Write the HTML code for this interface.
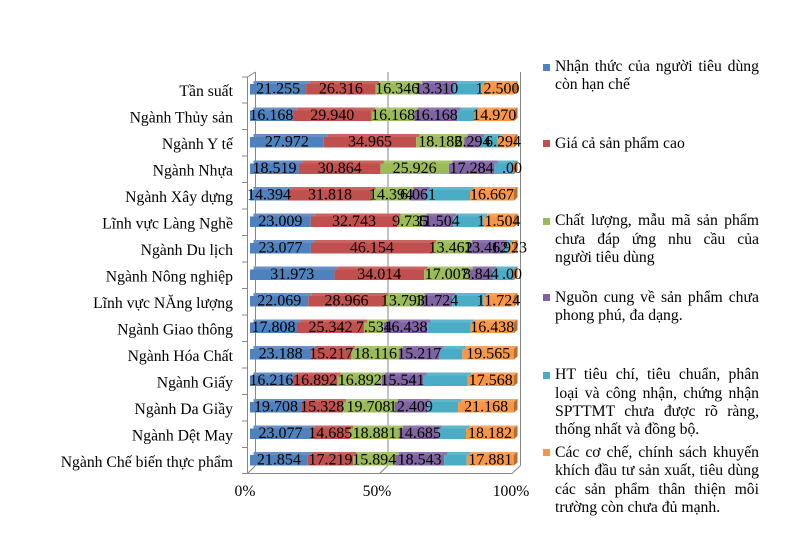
<!DOCTYPE html>
<html><head><meta charset="utf-8">
<style>
html,body{margin:0;padding:0;background:#fff;}
#w{position:relative;width:791px;height:536px;overflow:hidden;background:#fff;}
svg{position:absolute;left:0;top:0;}
.t{font-family:"Liberation Serif",serif;}
.lg{position:absolute;left:555px;width:204px;height:18px;line-height:18px;font-family:"Liberation Serif",serif;font-size:15.7px;color:#000;white-space:nowrap;}
.j{text-align:justify;text-align-last:justify;}
.sq{position:absolute;left:543px;width:7px;height:7px;}
.b{fill:#4F81BD}.r{fill:#C0504D}.g{fill:#9BBB59}.p{fill:#8064A2}.a{fill:#4BACC6}.o{fill:#F79646}
.bt{fill:#6890c6}.rt{fill:#c96461}.gt{fill:#a7c36c}.pt{fill:#8e75ad}.at{fill:#60b6cd}.ot{fill:#f8a260}
.sd{fill:#b86e31}
.dl{font-family:"Liberation Serif",serif;font-size:16px;fill:#000;text-anchor:middle;}
.cl{font-family:"Liberation Serif",serif;font-size:15.7px;fill:#000;text-anchor:end;}
</style></head>
<body><div id="w">
<svg width="791" height="536" viewBox="0 0 791 536" xmlns="http://www.w3.org/2000/svg">
<g stroke="#878787" stroke-width="1" fill="none">
<line x1="255.5" y1="72" x2="255.5" y2="465.5"/>
<line x1="388" y1="72" x2="388" y2="465.5"/>
<line x1="520.5" y1="72" x2="520.5" y2="465.5"/>
<line x1="247.5" y1="77" x2="255.5" y2="72"/>
<line x1="247.5" y1="77" x2="247.5" y2="473.5"/>
<line x1="247.5" y1="473.5" x2="512" y2="473.5"/>
<line x1="247.5" y1="473.5" x2="255.5" y2="465.5"/>
<line x1="379.5" y1="473.5" x2="388" y2="465.5"/>
<line x1="512" y1="473.5" x2="520.5" y2="465.5"/>
<line x1="242" y1="77" x2="247.5" y2="77"/>
<line x1="242" y1="103" x2="247.5" y2="103"/>
<line x1="242" y1="129.5" x2="247.5" y2="129.5"/>
<line x1="242" y1="156" x2="247.5" y2="156"/>
<line x1="242" y1="182.5" x2="247.5" y2="182.5"/>
<line x1="242" y1="209" x2="247.5" y2="209"/>
<line x1="242" y1="235.5" x2="247.5" y2="235.5"/>
<line x1="242" y1="262" x2="247.5" y2="262"/>
<line x1="242" y1="288.5" x2="247.5" y2="288.5"/>
<line x1="242" y1="315" x2="247.5" y2="315"/>
<line x1="242" y1="341.5" x2="247.5" y2="341.5"/>
<line x1="242" y1="368" x2="247.5" y2="368"/>
<line x1="242" y1="394.5" x2="247.5" y2="394.5"/>
<line x1="242" y1="421" x2="247.5" y2="421"/>
<line x1="242" y1="447.5" x2="247.5" y2="447.5"/>
<line x1="242" y1="473.5" x2="247.5" y2="473.5"/>
</g>

<!-- Row 0 -->
<g transform="translate(0,81)">
<rect class="bt" x="253.5" y="0" width="56.1" height="3"/><rect class="rt" x="309.6" y="0" width="69.5" height="3"/><rect class="gt" x="379.1" y="0" width="43.1" height="3"/><rect class="pt" x="422.2" y="0" width="35.2" height="3"/><rect class="at" x="457.4" y="0" width="27.1" height="3"/><rect class="ot" x="484.5" y="0" width="33" height="3"/>
<rect class="b" x="250" y="3" width="56.1" height="10.5"/><rect class="r" x="306.1" y="3" width="69.5" height="10.5"/><rect class="g" x="375.6" y="3" width="43.1" height="10.5"/><rect class="p" x="418.7" y="3" width="35.2" height="10.5"/><rect class="a" x="453.9" y="3" width="27.1" height="10.5"/><rect class="o" x="481" y="3" width="33" height="10.5"/>
<polygon class="sd" points="514,3 517.5,0 517.5,10.5 514,13.5"/>
<text class="dl" x="278.1" y="12.5">21.255</text><text class="dl" x="340.9" y="12.5">26.316</text><text class="dl" x="397.2" y="12.5">16.346</text><text class="dl" x="436.3" y="12.5">13.310</text><text class="dl" x="497.5" y="12.5">12.500</text>
</g>
<!-- Row 1 -->
<g transform="translate(0,107.5)">
<rect class="bt" x="253.5" y="0" width="42.7" height="3"/><rect class="rt" x="296.2" y="0" width="79" height="3"/><rect class="gt" x="375.2" y="0" width="42.7" height="3"/><rect class="pt" x="417.9" y="0" width="42.7" height="3"/><rect class="at" x="460.6" y="0" width="17.4" height="3"/><rect class="ot" x="478" y="0" width="39.5" height="3"/>
<rect class="b" x="250" y="3" width="42.7" height="10.5"/><rect class="r" x="292.7" y="3" width="79" height="10.5"/><rect class="g" x="371.7" y="3" width="42.7" height="10.5"/><rect class="p" x="414.4" y="3" width="42.7" height="10.5"/><rect class="a" x="457.1" y="3" width="17.4" height="10.5"/><rect class="o" x="474.5" y="3" width="39.5" height="10.5"/>
<polygon class="sd" points="514,3 517.5,0 517.5,10.5 514,13.5"/>
<text class="dl" x="271.4" y="12.5">16.168</text><text class="dl" x="332.2" y="12.5">29.940</text><text class="dl" x="393.1" y="12.5">16.168</text><text class="dl" x="435.8" y="12.5">16.168</text><text class="dl" x="494.3" y="12.5">14.970</text>
</g>
<!-- Row 2 -->
<g transform="translate(0,134)">
<rect class="bt" x="253.5" y="0" width="73.8" height="3"/><rect class="rt" x="327.3" y="0" width="92.4" height="3"/><rect class="gt" x="419.7" y="0" width="48" height="3"/><rect class="pt" x="467.7" y="0" width="16.6" height="3"/><rect class="at" x="484.3" y="0" width="16.6" height="3"/><rect class="ot" x="500.9" y="0" width="16.6" height="3"/>
<rect class="b" x="250" y="3" width="73.8" height="10.5"/><rect class="r" x="323.8" y="3" width="92.4" height="10.5"/><rect class="g" x="416.2" y="3" width="48" height="10.5"/><rect class="p" x="464.2" y="3" width="16.6" height="10.5"/><rect class="a" x="480.8" y="3" width="16.6" height="10.5"/><rect class="o" x="497.4" y="3" width="16.6" height="10.5"/>
<polygon class="sd" points="514,3 517.5,0 517.5,10.5 514,13.5"/>
<text class="dl" x="286.9" y="12.5">27.972</text><text class="dl" x="370" y="12.5">34.965</text><text class="dl" x="440.2" y="12.5">18.182</text><text class="dl" x="472.5" y="12.5">6.294</text><text class="dl" x="503" y="12.5">6.294</text>
</g>
<!-- Row 3 -->
<g transform="translate(0,160.5)">
<rect class="bt" x="253.5" y="0" width="48.9" height="3"/><rect class="rt" x="302.4" y="0" width="81.5" height="3"/><rect class="gt" x="383.9" y="0" width="68.4" height="3"/><rect class="pt" x="452.3" y="0" width="45.6" height="3"/><rect class="at" x="497.9" y="0" width="19.6" height="3"/>
<rect class="b" x="250" y="3" width="48.9" height="10.5"/><rect class="r" x="298.9" y="3" width="81.5" height="10.5"/><rect class="g" x="380.4" y="3" width="68.4" height="10.5"/><rect class="p" x="448.8" y="3" width="45.6" height="10.5"/><rect class="a" x="494.4" y="3" width="19.6" height="10.5"/>
<polygon class="sd" points="514,3 517.5,0 517.5,10.5 514,13.5"/>
<text class="dl" x="274.5" y="12.5">18.519</text><text class="dl" x="339.7" y="12.5">30.864</text><text class="dl" x="414.6" y="12.5">25.926</text><text class="dl" x="471.6" y="12.5">17.284</text><text class="dl" x="512" y="12.5">.00</text>
</g>
<!-- Row 4 -->
<g transform="translate(0,187)">
<rect class="bt" x="253.5" y="0" width="38" height="3"/><rect class="rt" x="291.5" y="0" width="84" height="3"/><rect class="gt" x="375.5" y="0" width="38" height="3"/><rect class="pt" x="413.5" y="0" width="16" height="3"/><rect class="at" x="429.5" y="0" width="44" height="3"/><rect class="ot" x="473.5" y="0" width="44" height="3"/>
<rect class="b" x="250" y="3" width="38" height="10.5"/><rect class="r" x="288" y="3" width="84" height="10.5"/><rect class="g" x="372" y="3" width="38" height="10.5"/><rect class="p" x="410" y="3" width="16" height="10.5"/><rect class="a" x="426" y="3" width="44" height="10.5"/><rect class="o" x="470" y="3" width="44" height="10.5"/>
<polygon class="sd" points="514,3 517.5,0 517.5,10.5 514,13.5"/>
<text class="dl" x="269" y="12.5">14.394</text><text class="dl" x="330" y="12.5">31.818</text><text class="dl" x="391" y="12.5">14.394</text><text class="dl" x="418" y="12.5">6.061</text><text class="dl" x="492" y="12.5">16.667</text>
</g>
<!-- Row 5 -->
<g transform="translate(0,213.5)">
<rect class="bt" x="253.5" y="0" width="60.7" height="3"/><rect class="rt" x="314.2" y="0" width="86.5" height="3"/><rect class="gt" x="400.7" y="0" width="25.7" height="3"/><rect class="pt" x="426.4" y="0" width="30.4" height="3"/><rect class="at" x="456.8" y="0" width="30.3" height="3"/><rect class="ot" x="487.1" y="0" width="30.4" height="3"/>
<rect class="b" x="250" y="3" width="60.7" height="10.5"/><rect class="r" x="310.7" y="3" width="86.5" height="10.5"/><rect class="g" x="397.2" y="3" width="25.7" height="10.5"/><rect class="p" x="422.9" y="3" width="30.4" height="10.5"/><rect class="a" x="453.3" y="3" width="30.3" height="10.5"/><rect class="o" x="483.6" y="3" width="30.4" height="10.5"/>
<polygon class="sd" points="514,3 517.5,0 517.5,10.5 514,13.5"/>
<text class="dl" x="280.4" y="12.5">23.009</text><text class="dl" x="354" y="12.5">32.743</text><text class="dl" x="410.1" y="12.5">9.735</text><text class="dl" x="438.1" y="12.5">11.504</text><text class="dl" x="498.8" y="12.5">11.504</text>
</g>
<!-- Row 6 -->
<g transform="translate(0,240)">
<rect class="bt" x="253.5" y="0" width="60.9" height="3"/><rect class="rt" x="314.4" y="0" width="121.9" height="3"/><rect class="gt" x="436.3" y="0" width="35.5" height="3"/><rect class="pt" x="471.8" y="0" width="35.5" height="3"/><rect class="at" x="507.3" y="0" width="5.1" height="3"/><rect class="ot" x="512.4" y="0" width="5.1" height="3"/>
<rect class="b" x="250" y="3" width="60.9" height="10.5"/><rect class="r" x="310.9" y="3" width="121.9" height="10.5"/><rect class="g" x="432.8" y="3" width="35.5" height="10.5"/><rect class="p" x="468.3" y="3" width="35.5" height="10.5"/><rect class="a" x="503.8" y="3" width="5.1" height="10.5"/><rect class="o" x="508.9" y="3" width="5.1" height="10.5"/>
<polygon class="sd" points="514,3 517.5,0 517.5,10.5 514,13.5"/>
<text class="dl" x="280.5" y="12.5">23.077</text><text class="dl" x="371.9" y="12.5">46.154</text><text class="dl" x="450.6" y="12.5">13.462</text><text class="dl" x="486.1" y="12.5">13.462</text><text class="dl" x="509" y="12.5">1.923</text>
</g>
<!-- Row 7 -->
<g transform="translate(0,266.5)">
<rect class="bt" x="253.5" y="0" width="84.4" height="3"/><rect class="rt" x="337.9" y="0" width="89.8" height="3"/><rect class="gt" x="427.7" y="0" width="44.9" height="3"/><rect class="pt" x="472.6" y="0" width="23.4" height="3"/><rect class="at" x="496" y="0" width="21.5" height="3"/>
<rect class="b" x="250" y="3" width="84.4" height="10.5"/><rect class="r" x="334.4" y="3" width="89.8" height="10.5"/><rect class="g" x="424.2" y="3" width="44.9" height="10.5"/><rect class="p" x="469.1" y="3" width="23.4" height="10.5"/><rect class="a" x="492.5" y="3" width="21.5" height="10.5"/>
<polygon class="sd" points="514,3 517.5,0 517.5,10.5 514,13.5"/>
<text class="dl" x="292.2" y="12.5">31.973</text><text class="dl" x="379.3" y="12.5">34.014</text><text class="dl" x="446.7" y="12.5">17.007</text><text class="dl" x="480.8" y="12.5">8.844</text><text class="dl" x="512" y="12.5">.00</text>
</g>
<!-- Row 8 -->
<g transform="translate(0,293)">
<rect class="bt" x="253.5" y="0" width="58.3" height="3"/><rect class="rt" x="311.8" y="0" width="76.4" height="3"/><rect class="gt" x="388.2" y="0" width="36.4" height="3"/><rect class="pt" x="424.6" y="0" width="31" height="3"/><rect class="at" x="455.6" y="0" width="30.9" height="3"/><rect class="ot" x="486.5" y="0" width="31" height="3"/>
<rect class="b" x="250" y="3" width="58.3" height="10.5"/><rect class="r" x="308.3" y="3" width="76.4" height="10.5"/><rect class="g" x="384.7" y="3" width="36.4" height="10.5"/><rect class="p" x="421.1" y="3" width="31" height="10.5"/><rect class="a" x="452.1" y="3" width="30.9" height="10.5"/><rect class="o" x="483" y="3" width="31" height="10.5"/>
<polygon class="sd" points="514,3 517.5,0 517.5,10.5 514,13.5"/>
<text class="dl" x="279.2" y="12.5">22.069</text><text class="dl" x="346.5" y="12.5">28.966</text><text class="dl" x="402.9" y="12.5">13.793</text><text class="dl" x="436.6" y="12.5">11.724</text><text class="dl" x="498.5" y="12.5">11.724</text>
</g>
<!-- Row 9 -->
<g transform="translate(0,319.5)">
<rect class="bt" x="253.5" y="0" width="47" height="3"/><rect class="rt" x="300.5" y="0" width="66.9" height="3"/><rect class="gt" x="367.4" y="0" width="19.9" height="3"/><rect class="pt" x="387.3" y="0" width="43.4" height="3"/><rect class="at" x="430.7" y="0" width="43.4" height="3"/><rect class="ot" x="474.1" y="0" width="43.4" height="3"/>
<rect class="b" x="250" y="3" width="47" height="10.5"/><rect class="r" x="297" y="3" width="66.9" height="10.5"/><rect class="g" x="363.9" y="3" width="19.9" height="10.5"/><rect class="p" x="383.8" y="3" width="43.4" height="10.5"/><rect class="a" x="427.2" y="3" width="43.4" height="10.5"/><rect class="o" x="470.6" y="3" width="43.4" height="10.5"/>
<polygon class="sd" points="514,3 517.5,0 517.5,10.5 514,13.5"/>
<text class="dl" x="273.5" y="12.5">17.808</text><text class="dl" x="330.5" y="12.5">25.342</text><text class="dl" x="373.9" y="12.5">7.534</text><text class="dl" x="405.5" y="12.5">16.438</text><text class="dl" x="492.3" y="12.5">16.438</text>
</g>
<!-- Row 10 -->
<g transform="translate(0,346)">
<rect class="bt" x="253.5" y="0" width="61.2" height="3"/><rect class="rt" x="314.7" y="0" width="40.2" height="3"/><rect class="gt" x="354.9" y="0" width="47.8" height="3"/><rect class="pt" x="402.7" y="0" width="40.2" height="3"/><rect class="at" x="442.9" y="0" width="22.9" height="3"/><rect class="ot" x="465.8" y="0" width="51.7" height="3"/>
<rect class="b" x="250" y="3" width="61.2" height="10.5"/><rect class="r" x="311.2" y="3" width="40.2" height="10.5"/><rect class="g" x="351.4" y="3" width="47.8" height="10.5"/><rect class="p" x="399.2" y="3" width="40.2" height="10.5"/><rect class="a" x="439.4" y="3" width="22.9" height="10.5"/><rect class="o" x="462.3" y="3" width="51.7" height="10.5"/>
<polygon class="sd" points="514,3 517.5,0 517.5,10.5 514,13.5"/>
<text class="dl" x="280.6" y="12.5">23.188</text><text class="dl" x="331.3" y="12.5">15.217</text><text class="dl" x="375.3" y="12.5">18.116</text><text class="dl" x="419.3" y="12.5">15.217</text><text class="dl" x="488.2" y="12.5">19.565</text>
</g>
<!-- Row 11 -->
<g transform="translate(0,372.5)">
<rect class="bt" x="253.5" y="0" width="42.8" height="3"/><rect class="rt" x="296.3" y="0" width="44.6" height="3"/><rect class="gt" x="340.9" y="0" width="44.6" height="3"/><rect class="pt" x="385.5" y="0" width="41" height="3"/><rect class="at" x="426.5" y="0" width="44.6" height="3"/><rect class="ot" x="471.1" y="0" width="46.4" height="3"/>
<rect class="b" x="250" y="3" width="42.8" height="10.5"/><rect class="r" x="292.8" y="3" width="44.6" height="10.5"/><rect class="g" x="337.4" y="3" width="44.6" height="10.5"/><rect class="p" x="382" y="3" width="41" height="10.5"/><rect class="a" x="423" y="3" width="44.6" height="10.5"/><rect class="o" x="467.6" y="3" width="46.4" height="10.5"/>
<polygon class="sd" points="514,3 517.5,0 517.5,10.5 514,13.5"/>
<text class="dl" x="271.4" y="12.5">16.216</text><text class="dl" x="315.1" y="12.5">16.892</text><text class="dl" x="359.7" y="12.5">16.892</text><text class="dl" x="402.5" y="12.5">15.541</text><text class="dl" x="490.8" y="12.5">17.568</text>
</g>
<!-- Row 12 -->
<g transform="translate(0,399)">
<rect class="bt" x="253.5" y="0" width="52" height="3"/><rect class="rt" x="305.5" y="0" width="40.5" height="3"/><rect class="gt" x="346" y="0" width="52" height="3"/><rect class="pt" x="398" y="0" width="32.8" height="3"/><rect class="at" x="430.8" y="0" width="30.8" height="3"/><rect class="ot" x="461.6" y="0" width="55.9" height="3"/>
<rect class="b" x="250" y="3" width="52" height="10.5"/><rect class="r" x="302" y="3" width="40.5" height="10.5"/><rect class="g" x="342.5" y="3" width="52" height="10.5"/><rect class="p" x="394.5" y="3" width="32.8" height="10.5"/><rect class="a" x="427.3" y="3" width="30.8" height="10.5"/><rect class="o" x="458.1" y="3" width="55.9" height="10.5"/>
<polygon class="sd" points="514,3 517.5,0 517.5,10.5 514,13.5"/>
<text class="dl" x="276" y="12.5">19.708</text><text class="dl" x="322.3" y="12.5">15.328</text><text class="dl" x="368.5" y="12.5">19.708</text><text class="dl" x="410.9" y="12.5">12.409</text><text class="dl" x="486.1" y="12.5">21.168</text>
</g>
<!-- Row 13 -->
<g transform="translate(0,425.5)">
<rect class="bt" x="253.5" y="0" width="60.9" height="3"/><rect class="rt" x="314.4" y="0" width="38.8" height="3"/><rect class="gt" x="353.2" y="0" width="49.8" height="3"/><rect class="pt" x="403" y="0" width="38.8" height="3"/><rect class="at" x="441.8" y="0" width="27.7" height="3"/><rect class="ot" x="469.5" y="0" width="48" height="3"/>
<rect class="b" x="250" y="3" width="60.9" height="10.5"/><rect class="r" x="310.9" y="3" width="38.8" height="10.5"/><rect class="g" x="349.7" y="3" width="49.8" height="10.5"/><rect class="p" x="399.5" y="3" width="38.8" height="10.5"/><rect class="a" x="438.3" y="3" width="27.7" height="10.5"/><rect class="o" x="466" y="3" width="48" height="10.5"/>
<polygon class="sd" points="514,3 517.5,0 517.5,10.5 514,13.5"/>
<text class="dl" x="280.5" y="12.5">23.077</text><text class="dl" x="330.3" y="12.5">14.685</text><text class="dl" x="374.6" y="12.5">18.881</text><text class="dl" x="418.9" y="12.5">14.685</text><text class="dl" x="490" y="12.5">18.182</text>
</g>
<!-- Row 14 -->
<g transform="translate(0,452)">
<rect class="bt" x="253.5" y="0" width="57.7" height="3"/><rect class="rt" x="311.2" y="0" width="45.5" height="3"/><rect class="gt" x="356.7" y="0" width="41.9" height="3"/><rect class="pt" x="398.6" y="0" width="49" height="3"/><rect class="at" x="447.6" y="0" width="22.7" height="3"/><rect class="ot" x="470.3" y="0" width="47.2" height="3"/>
<rect class="b" x="250" y="3" width="57.7" height="10.5"/><rect class="r" x="307.7" y="3" width="45.5" height="10.5"/><rect class="g" x="353.2" y="3" width="41.9" height="10.5"/><rect class="p" x="395.1" y="3" width="49" height="10.5"/><rect class="a" x="444.1" y="3" width="22.7" height="10.5"/><rect class="o" x="466.8" y="3" width="47.2" height="10.5"/>
<polygon class="sd" points="514,3 517.5,0 517.5,10.5 514,13.5"/>
<text class="dl" x="278.9" y="12.5">21.854</text><text class="dl" x="330.5" y="12.5">17.219</text><text class="dl" x="374.2" y="12.5">15.894</text><text class="dl" x="419.6" y="12.5">18.543</text><text class="dl" x="490.4" y="12.5">17.881</text>
</g>

<!-- category labels -->
<text class="cl" x="233" y="96">Tần suất</text>
<text class="cl" x="233" y="122.5">Ngành Thủy sản</text>
<text class="cl" x="233" y="149">Ngành Y tế</text>
<text class="cl" x="233" y="175.5">Ngành Nhựa</text>
<text class="cl" x="233" y="202">Ngành Xây dựng</text>
<text class="cl" x="233" y="228.5">Lĩnh vực Làng Nghề</text>
<text class="cl" x="233" y="255">Ngành Du lịch</text>
<text class="cl" x="233" y="281.5">Ngành Nông nghiệp</text>
<text class="cl" x="233" y="308">Lĩnh vực NĂng lượng</text>
<text class="cl" x="233" y="334.5">Ngành Giao thông</text>
<text class="cl" x="233" y="361">Ngành Hóa Chất</text>
<text class="cl" x="233" y="387.5">Ngành Giấy</text>
<text class="cl" x="233" y="414">Ngành Da Giầy</text>
<text class="cl" x="233" y="440.5">Ngành Dệt May</text>
<text class="cl" x="233" y="467">Ngành Chế biến thực phẩm</text>

<!-- x axis labels -->
<text class="t" x="245" y="496" font-size="15.7" text-anchor="middle">0%</text>
<text class="t" x="377" y="496" font-size="15.7" text-anchor="middle">50%</text>
<text class="t" x="511" y="496" font-size="15.7" text-anchor="middle">100%</text>
</svg>

<!-- legend -->
<div class="sq" style="top:63.5px;background:#4F81BD"></div>
<div class="lg j" style="top:58.2px">Nhận thức của người tiêu dùng</div>
<div class="lg" style="top:76.2px">còn hạn chế</div>

<div class="sq" style="top:140px;background:#C0504D"></div>
<div class="lg" style="top:134.7px">Giá cả sản phẩm cao</div>

<div class="sq" style="top:217.5px;background:#9BBB59"></div>
<div class="lg j" style="top:212.2px">Chất lượng, mẫu mã sản phẩm</div>
<div class="lg j" style="top:230.7px">chưa đáp ứng nhu cầu của</div>
<div class="lg" style="top:249px">người tiêu dùng</div>

<div class="sq" style="top:294.3px;background:#8064A2"></div>
<div class="lg j" style="top:289px">Nguồn cung về sản phẩm chưa</div>
<div class="lg" style="top:307.2px">phong phú, đa dạng.</div>

<div class="sq" style="top:371.5px;background:#4BACC6"></div>
<div class="lg j" style="top:366.4px">HT tiêu chí, tiêu chuẩn, phân</div>
<div class="lg j" style="top:384.7px">loại và công nhận, chứng nhận</div>
<div class="lg j" style="top:403px">SPTTMT chưa được rõ ràng,</div>
<div class="lg" style="top:421.2px">thống nhất và đồng bộ.</div>

<div class="sq" style="top:449.3px;background:#F79646"></div>
<div class="lg j" style="top:444px">Các cơ chế, chính sách khuyến</div>
<div class="lg j" style="top:462.4px">khích đầu tư sản xuất, tiêu dùng</div>
<div class="lg j" style="top:480.7px">các sản phẩm thân thiện môi</div>
<div class="lg" style="top:498.7px">trường còn chưa đủ mạnh.</div>
</div>
</body></html>
